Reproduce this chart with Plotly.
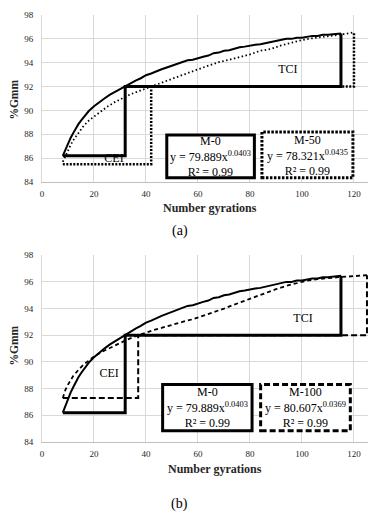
import plotly.graph_objects as go

# ---------------- data ----------------
m0_n = [8, 9, 10, 11, 12, 13, 14, 15, 16, 18, 20, 22, 24, 26, 28, 30, 32, 34, 36, 38, 40,
        42, 44, 46, 48, 50, 52, 54, 56, 58, 60, 62, 64, 66, 68, 70, 72, 74, 76, 78, 80,
        82, 84, 86, 88, 90, 92, 94, 96, 98, 100, 102, 104, 106, 108, 110, 112, 114, 115]
m0_g = [86.2, 86.75, 87.25, 87.7, 88.1, 88.5, 88.85, 89.15, 89.45, 89.95, 90.35, 90.7, 91.0,
        91.3, 91.55, 91.8, 92.05, 92.3, 92.5, 92.7, 92.95, 93.1, 93.3, 93.45, 93.6, 93.75,
        93.9, 94.05, 94.2, 94.25, 94.4, 94.5, 94.6, 94.8, 94.85, 95.0, 95.05, 95.2, 95.3,
        95.35, 95.45, 95.5, 95.55, 95.65, 95.75, 95.8, 95.95, 96.0, 96.0, 96.1, 96.1, 96.2,
        96.25, 96.25, 96.35, 96.35, 96.4, 96.45, 96.45]

m50_n = [8, 9, 10, 11, 12, 14, 16, 18, 20, 22, 25, 28, 31, 34, 37, 40, 42, 45, 48, 51, 54,
         57, 60, 64, 68, 72, 76, 80, 84, 88, 92, 96, 100, 104, 108, 112, 116, 120]
m50_g = [85.7, 86.2, 86.65, 87.1, 87.5, 88.15, 88.7, 89.15, 89.5, 89.85, 90.3, 90.7, 91.05,
         91.35, 91.6, 91.85, 92.0, 92.2, 92.45, 92.7, 92.95, 93.2, 93.45, 93.75, 94.05,
         94.25, 94.45, 94.7, 95.0, 95.15, 95.45, 95.7, 95.9, 96.05, 96.15, 96.25, 96.4, 96.55]

m100_n = [8, 9, 10, 11, 12, 14, 16, 18, 20, 23, 26, 29, 32, 35, 37, 40, 43, 46, 50, 54, 58,
          62, 66, 70, 74, 78, 82, 86, 90, 94, 98, 102, 106, 110, 114, 118, 122, 125]
m100_g = [87.3, 87.9, 88.3, 88.65, 88.95, 89.4, 89.8, 90.1, 90.4, 90.75, 91.05, 91.35, 91.6,
          91.85, 92.0, 92.2, 92.4, 92.55, 92.8, 93.0, 93.2, 93.45, 93.7, 94.0, 94.3, 94.6,
          94.9, 95.15, 95.45, 95.7, 95.9, 96.1, 96.2, 96.3, 96.35, 96.4, 96.45, 96.5]

# CEI / TCI construction lines (gyrations and %Gmm)
mixes = ["M-0", "M-50", "M-100"]
n_start = [8, 8, 8]
n_at_92 = [32, 42, 37]
n_end = [115, 120, 125]
gmm_start = [86.2, 85.5, 87.3]
gmm_end = [96.45, 96.55, 96.5]
gmm_threshold = 92

# power-law fits y = a x^b
fit_a = [79.889, 78.321, 80.607]
fit_b = [0.0403, 0.0435, 0.0369]
fit_r2 = [0.99, 0.99, 0.99]

x_ticks = [0, 20, 40, 60, 80, 100, 120]
y_ticks = [84, 86, 88, 90, 92, 94, 96, 98]

FONT = "Liberation Serif"


def box_path(i):
    xs = [n_start[i], n_at_92[i], n_at_92[i], n_end[i], n_end[i]]
    ys = [gmm_start[i], gmm_start[i], gmm_threshold, gmm_threshold, gmm_end[i]]
    return xs, ys


def fit_text(i):
    return (f"{mixes[i]}<br>y = {fit_a[i]:.3f}x<sup>{fit_b[i]:.4f}</sup><br>"
            f"R² = {fit_r2[i]:.2f}")


fig = go.Figure()

# text labels first so the lines lie over them
fig.add_trace(go.Scatter(x=[94.6, 27.7], y=[93.4, 85.95], mode="text", text=["TCI", "CEI"],
                         textfont=dict(family=FONT, size=12, color="black"),
                         xaxis="x", yaxis="y", showlegend=False, hoverinfo="skip"))
fig.add_trace(go.Scatter(x=[100.4, 25.8], y=[93.2, 89.1], mode="text", text=["TCI", "CEI"],
                         textfont=dict(family=FONT, size=12, color="black"),
                         xaxis="x2", yaxis="y2", showlegend=False, hoverinfo="skip"))

# ---- panel (a)
fig.add_trace(go.Scatter(x=m50_n, y=m50_g, mode="lines",
                         line=dict(color="black", width=1.8, dash="1.5px,2.5px"),
                         xaxis="x", yaxis="y", showlegend=False))
fig.add_trace(go.Scatter(x=m0_n, y=m0_g, mode="lines", line=dict(color="black", width=2),
                         xaxis="x", yaxis="y", showlegend=False))
bx, by = box_path(1)
fig.add_trace(go.Scatter(x=bx, y=by, mode="lines",
                         line=dict(color="black", width=2.5, dash="2px,1.5px"),
                         xaxis="x", yaxis="y", showlegend=False))
bx, by = box_path(0)
fig.add_trace(go.Scatter(x=bx, y=by, mode="lines", line=dict(color="black", width=3),
                         xaxis="x", yaxis="y", showlegend=False))

# ---- panel (b)
fig.add_trace(go.Scatter(x=m100_n, y=m100_g, mode="lines",
                         line=dict(color="black", width=1.8, dash="4px,3px"),
                         xaxis="x2", yaxis="y2", showlegend=False))
fig.add_trace(go.Scatter(x=m0_n, y=m0_g, mode="lines", line=dict(color="black", width=2),
                         xaxis="x2", yaxis="y2", showlegend=False))
bx, by = box_path(2)
fig.add_trace(go.Scatter(x=bx, y=by, mode="lines",
                         line=dict(color="black", width=2, dash="6px,3px"),
                         xaxis="x2", yaxis="y2", showlegend=False))
bx, by = box_path(0)
fig.add_trace(go.Scatter(x=bx, y=by, mode="lines", line=dict(color="black", width=3),
                         xaxis="x2", yaxis="y2", showlegend=False))

# equation boxes
shapes = [
    dict(type="rect", xref="x", yref="y", x0=48.0, x1=81.7, y0=84.35, y1=87.95,
         line=dict(color="black", width=3), fillcolor="white"),
    dict(type="rect", xref="x", yref="y", x0=84.6, x1=119.6, y0=84.35, y1=88.2,
         line=dict(color="black", width=3, dash="2.5px,1.5px"), fillcolor="white"),
    dict(type="rect", xref="x2", yref="y2", x0=46.4, x1=80.8, y0=84.85, y1=88.3,
         line=dict(color="black", width=3), fillcolor="white"),
    dict(type="rect", xref="x2", yref="y2", x0=84.1, x1=118.6, y0=84.85, y1=88.3,
         line=dict(color="black", width=3, dash="6px,3px"), fillcolor="white"),
]

ann_font = dict(family=FONT, size=12, color="black")
title_font = dict(family=FONT, size=12, color="#262626")
ytitle_font = dict(family=FONT, size=11.5, color="#262626")
cap_font = dict(family=FONT, size=14, color="black")


def ann(x, y, text, font, xref="paper", yref="paper", **kw):
    return dict(xref=xref, yref=yref, x=x, y=y, text=text, showarrow=False, font=font,
                xanchor="center", yanchor="middle", **kw)


annotations = [
    ann(64.8, 86.15, fit_text(0), ann_font, "x", "y"),
    ann(102.0, 86.25, fit_text(1), ann_font, "x", "y"),
    ann(63.5, 86.55, fit_text(0), ann_font, "x2", "y2"),
    ann(101.3, 86.55, fit_text(2), ann_font, "x2", "y2"),
    # axis titles & captions
    ann(0.515, 0.5486, "<b>Number gyrations</b>", title_font),
    ann(0.53, -0.0633, "<b>Number gyrations</b>", title_font),
    ann(-0.0844, 0.803, "<b>%Gmm</b>", ytitle_font, textangle=-90),
    ann(-0.0844, 0.227, "<b>%Gmm</b>", ytitle_font, textangle=-90),
    ann(0.4218, 0.4931, "(a)", cap_font),
    ann(0.4218, -0.1458, "(b)", cap_font),
]

tick_font = dict(family=FONT, size=9, color="#262626")
xcommon = dict(range=[0, 125.4], tickvals=x_ticks, showgrid=True, gridcolor="#d9d9d9",
               gridwidth=1, zeroline=False, showline=True, linecolor="#bfbfbf", linewidth=1,
               ticks="outside", ticklen=3, tickcolor="rgba(0,0,0,0)", tickfont=tick_font,
               fixedrange=True)
ycommon = dict(range=[84, 98], tickvals=y_ticks, showgrid=True, gridcolor="#d9d9d9",
               gridwidth=1, zeroline=False, showline=True, linecolor="#d9d9d9", linewidth=1,
               ticks="outside", ticklen=6, tickcolor="rgba(0,0,0,0)", tickfont=tick_font,
               fixedrange=True)

# page body has an 8px margin, so the figure is 8px smaller in each direction
fig.update_layout(
    width=369, height=508,
    margin=dict(l=34, r=9, t=2, b=74),
    paper_bgcolor="white", plot_bgcolor="white",
    xaxis=dict(domain=[0, 1], anchor="y", **xcommon),
    yaxis=dict(domain=[0.6088, 1.0], anchor="x", **ycommon),
    xaxis2=dict(domain=[0, 1], anchor="y2", **xcommon),
    yaxis2=dict(domain=[0, 0.4375], anchor="x2", **ycommon),
    shapes=shapes,
    annotations=annotations,
    showlegend=False,
)

fig.write_html("out.html")
